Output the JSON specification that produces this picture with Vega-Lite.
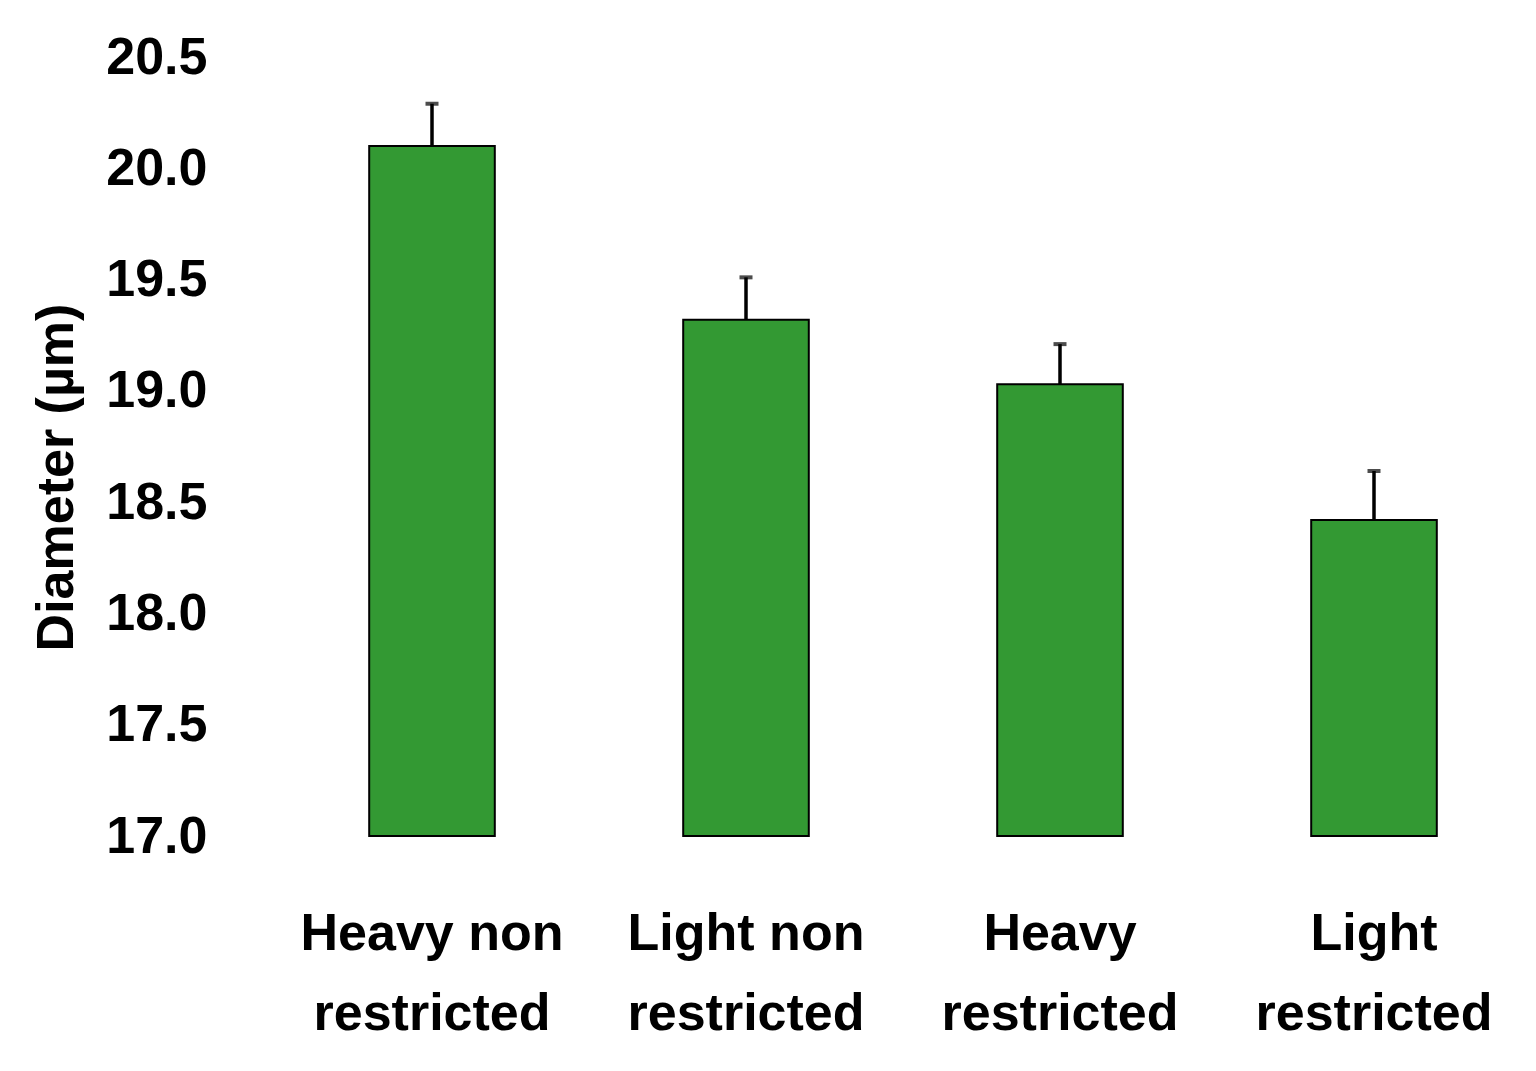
{
  "$schema": "https://vega.github.io/schema/vega-lite/v6.json",
  "width": 1256,
  "height": 779,
  "autosize": {"type": "none"},
  "padding": {"left": 275, "top": 57, "right": 5, "bottom": 235},
  "background": "white",
  "config": {
    "view": {"stroke": null},
    "font": "Liberation Sans",
    "axis": {"grid": false, "domain": false, "ticks": false, "labelColor": "black", "titleColor": "black", "labelFont": "Liberation Sans", "titleFont": "Liberation Sans", "labelFontWeight": "bold", "titleFontWeight": "bold", "labelLimit": 0}
  },
  "data": {
    "values": [
      {"group": "Heavy non restricted", "mean": 20.10, "upper": 20.29},
      {"group": "Light non restricted", "mean": 19.32, "upper": 19.51},
      {"group": "Heavy restricted", "mean": 19.03, "upper": 19.21},
      {"group": "Light restricted", "mean": 18.42, "upper": 18.64}
    ]
  },
  "encoding": {
    "x": {
      "field": "group",
      "type": "nominal",
      "sort": null,
      "scale": {"paddingInner": 0.6, "paddingOuter": 0.3},
      "axis": {
        "title": null,
        "labelAngle": 0,
        "labelFontSize": 52,
        "labelPadding": 113,
        "labelLimit": 0,
        "labelBaseline": "alphabetic",
        "labelLineHeight": 80,
        "labelExpr": "[slice(datum.label, 0, lastindexof(datum.label, ' ')), slice(datum.label, lastindexof(datum.label, ' ') + 1)]"
      }
    }
  },
  "layer": [
    {
      "mark": {"type": "rule", "color": "black", "strokeWidth": 3.5},
      "encoding": {
        "y": {"field": "mean", "type": "quantitative"},
        "y2": {"field": "upper"}
      }
    },
    {
      "mark": {"type": "tick", "color": "black", "size": 13, "thickness": 4},
      "encoding": {
        "y": {"field": "upper", "type": "quantitative"}
      }
    },
    {
      "mark": {"type": "bar", "fill": "#339933", "stroke": "black", "strokeWidth": 2},
      "encoding": {
        "y": {
          "field": "mean",
          "type": "quantitative",
          "scale": {"domain": [17, 20.5], "zero": false, "nice": false},
          "axis": {
            "title": "Diameter (µm)",
            "values": [17, 17.5, 18, 18.5, 19, 19.5, 20, 20.5],
            "format": ".1f",
            "labelFontSize": 52,
            "labelPadding": 68,
            "labelBaseline": "middle",
            "titleFontSize": 52,
            "titleX": -203,
            "titleY": 420,
            "titleAngle": -90,
            "titleAlign": "center",
            "titleBaseline": "alphabetic"
          }
        },
        "y2": {"datum": 17}
      }
    }
  ]
}
